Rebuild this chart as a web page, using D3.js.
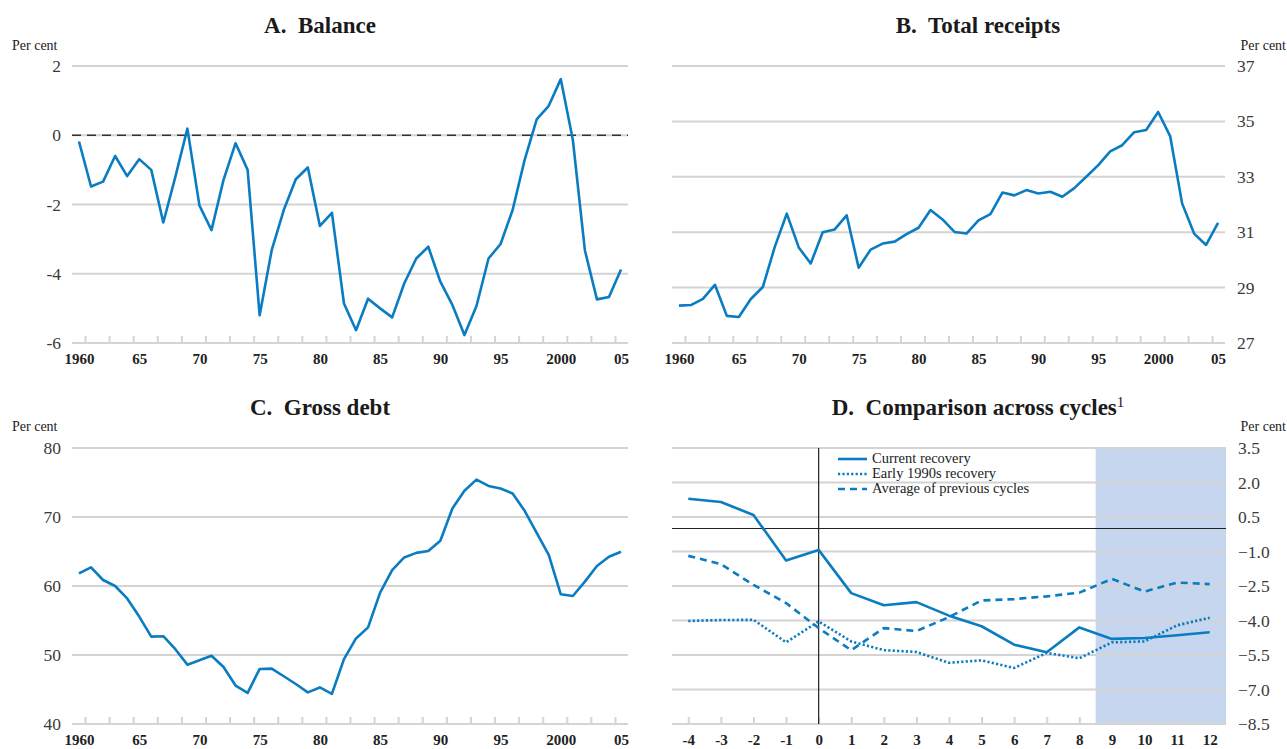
<!DOCTYPE html>
<html>
<head>
<meta charset="utf-8">
<script src="https://cdn.jsdelivr.net/npm/d3@7"></script>
<style>
  body { margin: 0; background: #fff; }
  svg text { font-family: "Liberation Serif", "Times New Roman", serif; }
</style>
</head>
<body>
<div class="container"></div>
<script>
const width = 1287;
const height = 749;

// years 1960..2005
const years = d3.range(1960, 2006);
const yearLabelYears = [1960, 1965, 1970, 1975, 1980, 1985, 1990, 1995, 2000, 2005];
const yearLabels = ['1960', '65', '70', '75', '80', '85', '90', '95', '2000', '05'];

const balance = [-0.18, -1.48, -1.34, -0.6, -1.18, -0.69, -1.0, -2.52, -1.2, 0.19,
    -2.03, -2.74, -1.29, -0.23, -1.0, -5.2, -3.32, -2.16, -1.27, -0.93,
    -2.62, -2.24, -4.86, -5.63, -4.72, -5.0, -5.26, -4.28, -3.56, -3.22,
    -4.23, -4.9, -5.77, -4.93, -3.56, -3.14, -2.16, -0.71, 0.46, 0.85,
    1.62, -0.13, -3.32, -4.74, -4.67, -3.88];

const receipts = [28.35, 28.37, 28.59, 29.1, 27.98, 27.94, 28.59, 29.02, 30.47, 31.67,
    30.45, 29.87, 31.0, 31.1, 31.61, 29.72, 30.37, 30.59, 30.66, 30.93,
    31.16, 31.8, 31.46, 31.01, 30.95, 31.43, 31.65, 32.43, 32.33, 32.52,
    32.4, 32.46, 32.28, 32.59, 33.0, 33.42, 33.92, 34.14, 34.61, 34.69,
    35.34, 34.47, 32.04, 30.95, 30.54, 31.34];

const grossDebt = [61.83, 62.7, 60.87, 60.0, 58.2, 55.57, 52.67, 52.72, 50.84, 48.6,
    49.23, 49.9, 48.27, 45.57, 44.5, 47.98, 48.02, 46.92, 45.8, 44.58,
    45.3, 44.38, 49.4, 52.4, 54.0, 59.03, 62.3, 64.14, 64.8, 65.06,
    66.55, 71.23, 73.8, 75.42, 74.5, 74.12, 73.4, 70.9, 67.7, 64.5,
    58.8, 58.55, 60.63, 62.9, 64.24, 64.96];

// panel D: quarters relative to trough
const quarters = d3.range(-4, 13);
const currentRecovery = [1.29, 1.15, 0.59, -1.39, -0.93, -2.81, -3.34, -3.2, -3.79,
    -4.25, -5.05, -5.38, -4.3, -4.8, -4.76, -4.64, -4.51];
const early1990s = [-4.02, -3.98, -3.97, -4.95, -4.04, -4.91, -5.29, -5.37, -5.84,
    -5.73, -6.06, -5.41, -5.64, -4.95, -4.91, -4.21, -3.88];
const avgPrevious = [-1.19, -1.55, -2.45, -3.24, -4.33, -5.29, -4.33, -4.46, -3.85,
    -3.13, -3.07, -2.95, -2.79, -2.19, -2.74, -2.35, -2.42];

const ticksA = [-6, -4, -2, 0, 2];
const ticksB = [27, 29, 31, 33, 35, 37];
const ticksC = [40, 50, 60, 70, 80];
const ticksD = [-8.5, -7.0, -5.5, -4.0, -2.5, -1.0, 0.5, 2.0, 3.5];

// tick marks sit between years, every second year
const yearTickMarks = d3.range(1960.5, 2005, 2);

const blue = '#0a7cc2';
const grid = '#d4d4d4';

const svg = d3.select('.container')
    .append('svg')
    .attr('width', width)
    .attr('height', height);

function panel(opt) {
    const G = svg.append('g');
    const x = opt.x;
    const y = opt.y;
    const [x0, x1] = x.range();
    const [y1, y0] = y.range();

    if (opt.shade) {
        G.append('rect')
            .attr('x', x(opt.shade[0]))
            .attr('y', y0)
            .attr('width', x(opt.shade[1]) - x(opt.shade[0]))
            .attr('height', y1 - y0)
            .style('fill', '#c6d6ee');
    }

    // gridlines
    G.selectAll('.grid')
        .data(opt.yTicks)
        .join('line')
        .attr('x1', x0)
        .attr('x2', x1)
        .attr('y1', d => y(d))
        .attr('y2', d => y(d))
        .style('stroke', grid)
        .style('stroke-width', 2);

    // y labels
    const right = opt.side === 'right';
    G.selectAll('.ylab')
        .data(opt.yTicks)
        .join('text')
        .attr('x', right ? x1 + 12 : x0 - 11)
        .attr('y', d => y(d) + 6)
        .attr('text-anchor', right ? 'start' : 'end')
        .style('font-size', '17.5px')
        .style('fill', '#3a3a3a')
        .text(d => opt.yFormat ? opt.yFormat(d) : d);

    G.append('text')
        .attr('x', right ? width - 1 : 12)
        .attr('y', opt.unitY)
        .attr('text-anchor', right ? 'end' : 'start')
        .style('font-size', '14px')
        .style('fill', '#222')
        .text('Per cent');

    // x axis: tick marks
    const tickAxis = d3.axisBottom(x)
        .tickValues(opt.xTicks)
        .tickSizeInner(-7)
        .tickSizeOuter(0)
        .tickFormat('');
    const ax = G.append('g')
        .attr('transform', 'translate(0,' + y1 + ')')
        .call(tickAxis);
    ax.select('.domain').remove();
    ax.selectAll('line').style('stroke', grid).style('stroke-width', 2);

    // x axis: labels
    const labAxis = d3.axisBottom(x)
        .tickValues(opt.xLabelValues)
        .tickSize(0)
        .tickFormat((d, i) => opt.xLabels[i]);
    const lx = G.append('g')
        .attr('transform', 'translate(0,' + y1 + ')')
        .call(labAxis);
    lx.select('.domain').remove();
    lx.selectAll('text')
        .attr('y', 10)
        .style('font-family', '"Liberation Serif", serif')
        .style('font-weight', 'bold')
        .style('font-size', '15px')
        .style('fill', '#222');

    if (opt.extra) opt.extra(G);

    G.append('text')
        .attr('x', opt.titleX)
        .attr('y', opt.titleY)
        .attr('text-anchor', 'middle')
        .style('font-size', '23px')
        .style('font-weight', 'bold')
        .style('fill', '#1a1a1a')
        .style('white-space', 'pre')
        .text(opt.title)
        .call(t => {
            if (opt.sup) {
                t.append('tspan')
                    .attr('dy', -8)
                    .style('font-size', '15px')
                    .style('font-weight', 'normal')
                    .text(opt.sup);
            }
        });

    const line = d3.line()
        .x((d, i) => x(opt.xs[i]))
        .y(d => y(d));

    opt.series.forEach(s => {
        G.append('path')
            .datum(s.values)
            .attr('d', line)
            .style('fill', 'none')
            .style('stroke', blue)
            .style('stroke-width', 2.6)
            .style('stroke-linejoin', 'round')
            .style('stroke-dasharray', s.dash || null);
    });
    return G;
}

// A. Balance
const xA = d3.scaleLinear().domain([1959.42, 2005.58]).range([72, 628]);
const yA = d3.scaleLinear().domain([-6, 2]).range([343, 66]);
panel({
    x: xA, y: yA, xs: years, xTicks: yearTickMarks,
    xLabelValues: yearLabelYears, xLabels: yearLabels,
    yTicks: ticksA, side: 'left', unitY: 50,
    title: 'A.  Balance', titleX: 320, titleY: 33,
    extra: G => {
        G.append('line')
            .attr('x1', 72).attr('x2', 628)
            .attr('y1', yA(0)).attr('y2', yA(0))
            .style('stroke', '#333')
            .style('stroke-width', 1.3)
            .style('stroke-dasharray', '9,6');
    },
    series: [{ values: balance }]
});

// B. Total receipts
const xB = d3.scaleLinear().domain([1959.42, 2005.58]).range([672, 1225]);
const yB = d3.scaleLinear().domain([27, 37]).range([343, 66]);
panel({
    x: xB, y: yB, xs: years, xTicks: yearTickMarks,
    xLabelValues: yearLabelYears, xLabels: yearLabels,
    yTicks: ticksB, side: 'right', unitY: 50,
    title: 'B.  Total receipts', titleX: 978, titleY: 33,
    series: [{ values: receipts }]
});

// C. Gross debt
const xC = d3.scaleLinear().domain([1959.42, 2005.58]).range([72, 628]);
const yC = d3.scaleLinear().domain([40, 80]).range([724, 448]);
panel({
    x: xC, y: yC, xs: years, xTicks: yearTickMarks,
    xLabelValues: yearLabelYears, xLabels: yearLabels,
    yTicks: ticksC, side: 'left', unitY: 431,
    title: 'C.  Gross debt', titleX: 320, titleY: 415,
    series: [{ values: grossDebt }]
});

// D. Comparison across cycles
const xD = d3.scaleLinear().domain([-4.5, 12.5]).range([672, 1226]);
const yD = d3.scaleLinear().domain([-8.5, 3.5]).range([724, 448]);
panel({
    x: xD, y: yD, xs: quarters, xTicks: quarters,
    xLabelValues: quarters, xLabels: quarters.map(String),
    yTicks: ticksD, side: 'right', unitY: 431, yFormat: d3.format('.1f'),
    shade: [8.5, 12.5],
    title: 'D.  Comparison across cycles', sup: '1', titleX: 978, titleY: 415,
    extra: G => {
        G.append('line')
            .attr('x1', 672).attr('x2', 1226)
            .attr('y1', yD(0)).attr('y2', yD(0))
            .style('stroke', '#222').style('stroke-width', 1.2);
        G.append('line')
            .attr('x1', xD(0)).attr('x2', xD(0))
            .attr('y1', 448).attr('y2', 724)
            .style('stroke', '#222').style('stroke-width', 1.2);
    },
    series: [
        { values: currentRecovery },
        { values: early1990s, dash: '2.2,2.2' },
        { values: avgPrevious, dash: '7,5' }
    ]
});

// legend for D
const legendItems = [
    { label: 'Current recovery', dash: null },
    { label: 'Early 1990s recovery', dash: '2.2,2.2' },
    { label: 'Average of previous cycles', dash: '7,5' }
];
const L = svg.append('g').attr('transform', 'translate(838,459)');
L.selectAll('line')
    .data(legendItems)
    .join('line')
    .attr('x1', 0).attr('x2', 29)
    .attr('y1', (d, i) => i * 15)
    .attr('y2', (d, i) => i * 15)
    .style('stroke', blue)
    .style('stroke-width', 2.6)
    .style('stroke-dasharray', d => d.dash);
L.selectAll('text')
    .data(legendItems)
    .join('text')
    .attr('x', 34)
    .attr('y', (d, i) => i * 15 + 4)
    .style('font-size', '14.5px')
    .style('fill', '#222')
    .text(d => d.label);
</script>
</body>
</html>
